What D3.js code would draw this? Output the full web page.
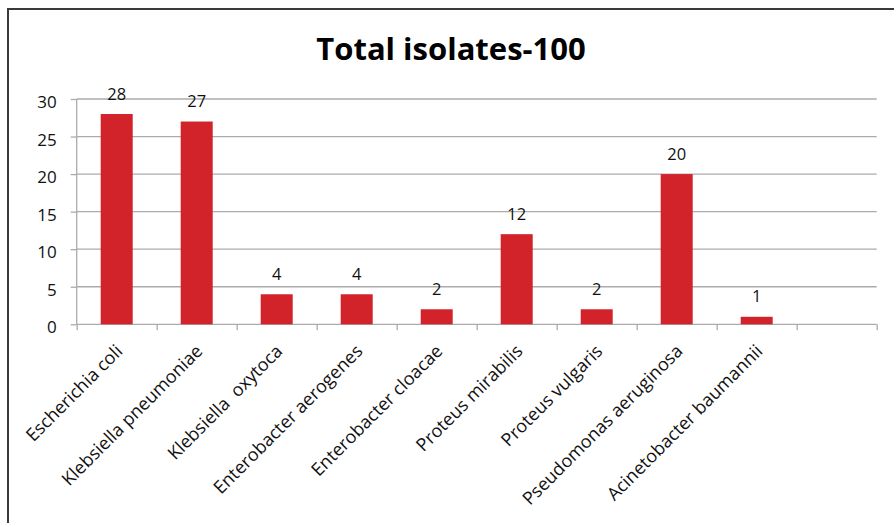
<!DOCTYPE html>
<html><head><meta charset="utf-8">
<script src="https://cdn.jsdelivr.net/npm/d3@7"></script>
<style>html,body{margin:0;padding:0;background:#fff;}svg{display:block;}</style>
</head><body>
<script>
const title = "Total isolates-100";
const categories = ["Escherichia coli","Klebsiella pneumoniae","Klebsiella  oxytoca","Enterobacter aerogenes","Enterobacter cloacae","Proteus mirabilis","Proteus vulgaris","Pseudomonas aeruginosa","Acinetobacter baumannii"];
const values = [28,27,4,4,2,12,2,20,1];
const yTicks = [0,5,10,15,20,25,30];
const slots = 10; // Excel-style axis with an empty trailing slot

const W = 894, H = 523;
const FONT = "'Open Sans', sans-serif";
const svg = d3.select("body").append("svg").attr("width", W).attr("height", H);

// frame
svg.append("path").attr("d", `M8,${H} L8,9 L${W},9`).attr("fill","none").attr("stroke","#3a3a3a").attr("stroke-width",2);

const x0 = 76.7, x1 = 876.7, yTop = 99, yBot = 324.3;
const xi = d3.scaleLinear().domain([0, slots]).range([x0, x1]);
const x = d3.scaleBand().domain(d3.range(slots)).range([x0, x1]).paddingInner(0.6).paddingOuter(0.3);
const y = d3.scaleLinear().domain([0, 30]).range([yBot, yTop]);

// gridlines
svg.append("g").selectAll("line").data(yTicks.filter(d => d > 0)).join("line")
  .attr("x1", x0).attr("x2", x1).attr("y1", d => y(d)).attr("y2", d => y(d))
  .attr("stroke", "#ababab").attr("stroke-width", 1.3);

// y axis
const ya = svg.append("g").attr("transform", `translate(${x0},0)`)
  .call(d3.axisLeft(y).tickValues(yTicks).tickSize(6).tickPadding(14));
ya.selectAll("path,line").attr("stroke", "#ababab").attr("stroke-width", 1.3);
ya.select(".domain").attr("d", `M0,${yTop}V${yBot}`);
ya.selectAll("text").attr("font-family", FONT).attr("font-size", 17).attr("fill", "#111").attr("dy", "0.5em");

// x axis
const xa = svg.append("g").attr("transform", `translate(0,${yBot})`)
  .call(d3.axisBottom(xi).tickValues(d3.range(slots + 1)).tickSize(6).tickFormat(""));
xa.selectAll("path,line").attr("stroke", "#ababab").attr("stroke-width", 1.3);
xa.select(".domain").attr("d", `M${x0},0H${x1}`);

// bars
svg.append("g").selectAll("rect").data(values).join("rect")
  .attr("x", (d, i) => x(i)).attr("width", x.bandwidth())
  .attr("y", d => y(d)).attr("height", d => y(0) - y(d))
  .attr("fill", "#d2222a");

// value labels
svg.append("g").selectAll("text").data(values).join("text")
  .attr("x", (d, i) => x(i) + x.bandwidth() / 2).attr("y", d => y(d) - 14.5)
  .attr("text-anchor", "middle").attr("font-family", FONT).attr("font-size", 16.5).attr("fill", "#111")
  .text(d => d);

// category labels
svg.append("g").selectAll("text").data(categories).join("text")
  .attr("transform", (d, i) => `translate(${x(i) + x.bandwidth() / 2 + 7},${yBot + 28}) rotate(-45)`)
  .attr("text-anchor", "end").attr("font-family", FONT).attr("font-size", 18).attr("fill", "#111")
  .style("white-space", "pre").attr("xml:space", "preserve")
  .text(d => d);

// title
svg.append("text").attr("x", 451).attr("y", 60).attr("text-anchor", "middle")
  .attr("font-family", FONT).attr("font-weight", "bold").attr("font-size", 31).attr("fill", "#000")
  .text(title);
</script>
</body></html>
